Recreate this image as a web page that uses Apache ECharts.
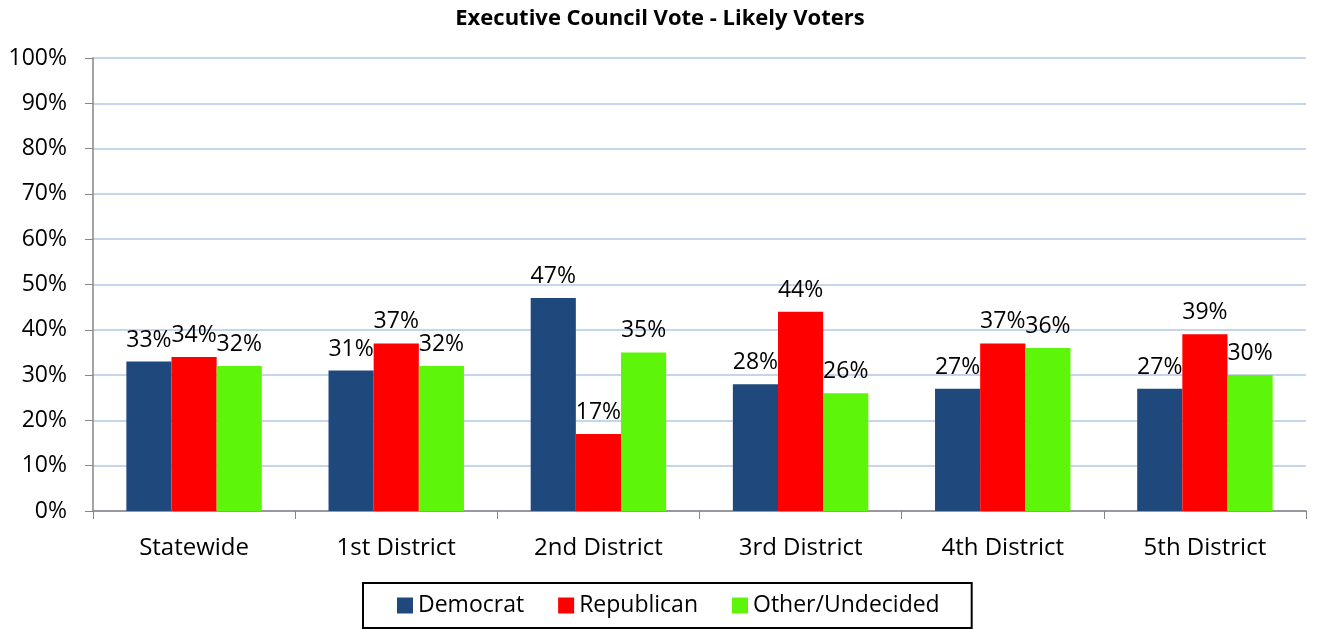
<!DOCTYPE html>
<html>
<head>
<meta charset="utf-8">
<script src="https://cdn.jsdelivr.net/npm/echarts@6/dist/echarts.min.js"></script>
<style>
html, body { margin: 0; padding: 0; background: #fff; }
#chart { width: 1320px; height: 629px; }
</style>
</head>
<body>
<div id="chart"></div>
<script>
var categories = ['Statewide', '1st District', '2nd District', '3rd District', '4th District', '5th District'];
var democrat = [33, 31, 47, 28, 27, 27];
var republican = [34, 37, 17, 44, 37, 39];
var other = [32, 32, 35, 26, 36, 30];
var yTicks = [0, 10, 20, 30, 40, 50, 60, 70, 80, 90, 100];

var font = '"Open Sans", "Noto Sans", sans-serif';
var myChart = echarts.init(document.getElementById('chart'));

function barSeries(name, data, color) {
	return {
		name : name,
		type : 'bar',
		data : data,
		barGap : '0%',
		barCategoryGap : '33%',
		itemStyle : { color : color },
		label : {
			show : true,
			position : 'top',
			distance : 10,
			formatter : '{c}%',
			color : '#000',
			fontSize : 23,
			fontFamily : font
		}
	};
}

var option = {
	animation : false,
	textStyle : { fontFamily : font },
	title : {
		text : 'Executive Council Vote - Likely Voters',
		left : 'center',
		top : 3,
		textStyle : {
			fontSize : 22,
			fontWeight : 'bold',
			color : '#000',
			fontFamily : font
		}
	},
	legend : {
		bottom : 1,
		left : 363,
		itemWidth : 16,
		itemHeight : 16,
		itemGap : 34,
		padding : [11, 32, 11, 34],
		borderColor : '#000',
		borderWidth : 2,
		icon : 'rect',
		textStyle : { fontSize : 23, color : '#000', fontFamily : font }
	},
	grid : {
		left : 93,
		right : 14,
		top : 58,
		bottom : 118
	},
	xAxis : {
		type : 'category',
		data : categories,
		axisLine : { lineStyle : { color : '#868686', width : 1.5 } },
		axisTick : { show : true, length : 8, lineStyle : { color : '#868686' } },
		axisLabel : { fontSize : 24, color : '#000', margin : 25, fontFamily : font }
	},
	yAxis : {
		type : 'value',
		min : yTicks[0],
		max : yTicks[yTicks.length - 1],
		interval : 10,
		axisLine : { show : true, lineStyle : { color : '#868686', width : 1.5 } },
		axisTick : { show : true, length : 8, lineStyle : { color : '#868686' } },
		axisLabel : { fontSize : 23, color : '#000', margin : 26, formatter : '{value}%', fontFamily : font },
		splitLine : { lineStyle : { color : '#b3c7e6', width : 1.5 } }
	},
	series : [
		barSeries('Democrat', democrat, '#1f497d'),
		barSeries('Republican', republican, '#ff0000'),
		barSeries('Other/Undecided', other, '#5df50a')
	]
};
myChart.setOption(option);
</script>
</body>
</html>
